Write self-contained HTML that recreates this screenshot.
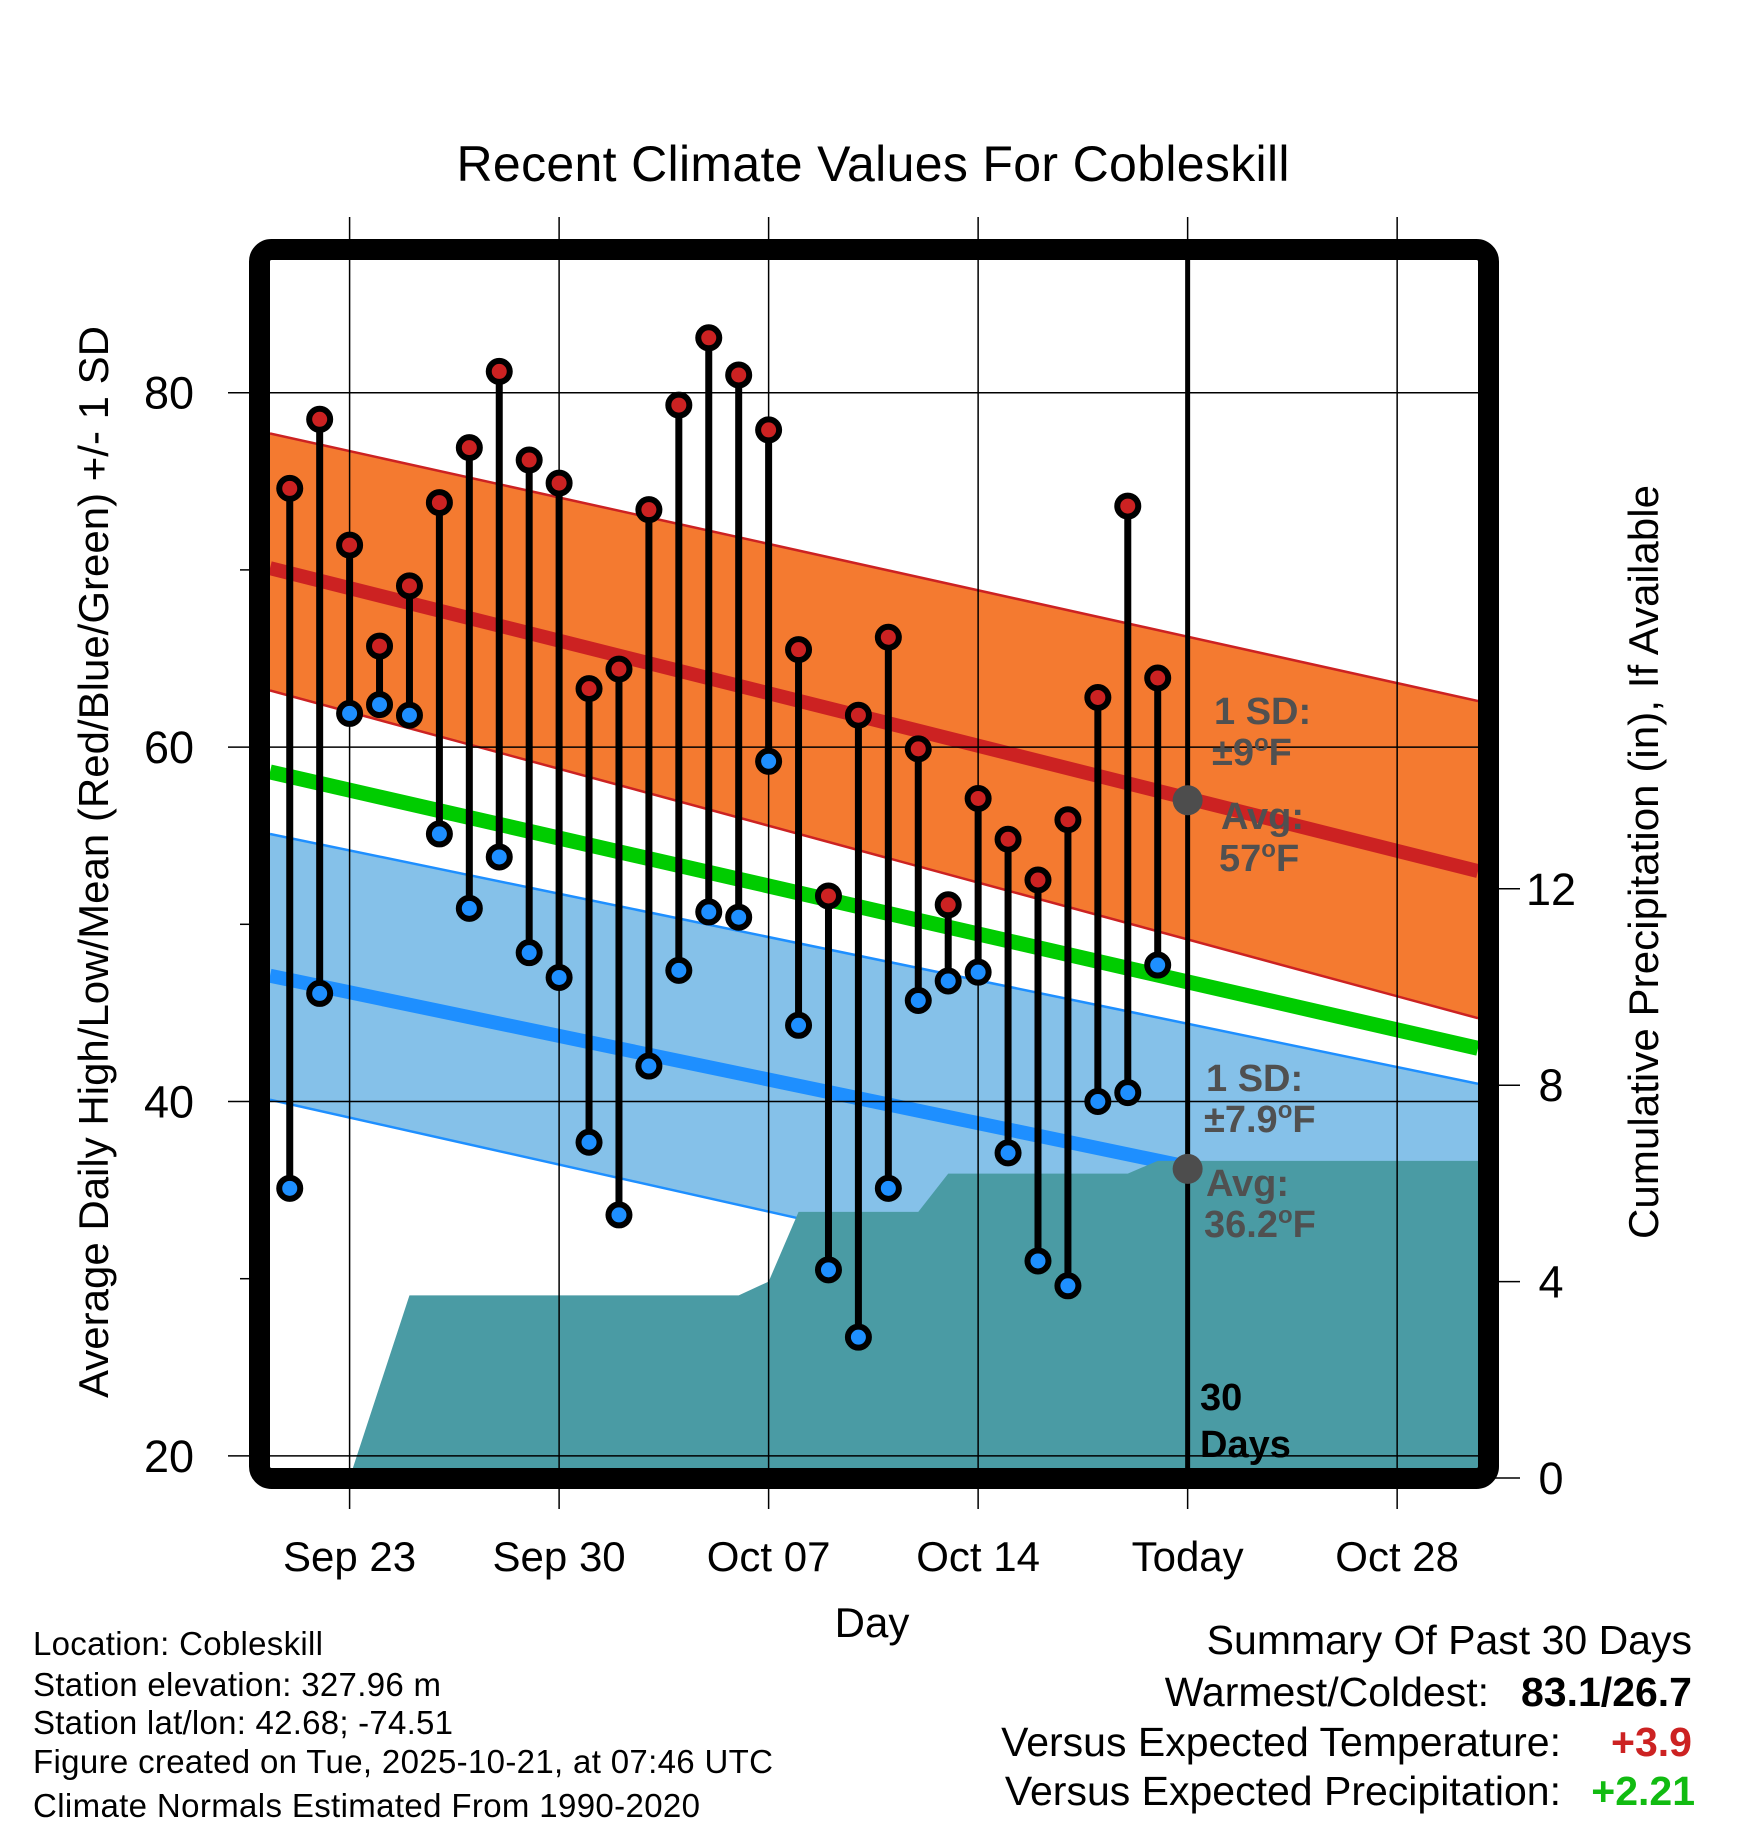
<!DOCTYPE html>
<html><head><meta charset="utf-8"><style>
html,body{margin:0;padding:0;background:#fff;}
svg{display:block;font-family:"Liberation Sans",Arial,sans-serif;}
</style></head><body>
<svg id="chart" width="1748" height="1828" viewBox="0 0 1748 1828" xmlns="http://www.w3.org/2000/svg">
<rect x="0" y="0" width="1748" height="1828" fill="#fff"/>
<g id="plot"></g>
<text x="873" y="181" font-size="50" text-anchor="middle" textLength="833">Recent Climate Values For Cobleskill</text>
<text x="872" y="1637" font-size="42" text-anchor="middle">Day</text>
<text transform="translate(108,862) rotate(-90)" font-size="42" text-anchor="middle" textLength="1072">Average Daily High/Low/Mean (Red/Blue/Green) +/- 1 SD</text>
<text transform="translate(1658,862) rotate(-90)" font-size="42" text-anchor="middle" textLength="754">Cumulative Precipitation (in), If Available</text>
<g font-size="33">
<text x="33" y="1655" textLength="290">Location: Cobleskill</text>
<text x="33" y="1696" textLength="408">Station elevation: 327.96 m</text>
<text x="33" y="1734" textLength="420">Station lat/lon: 42.68; -74.51</text>
<text x="33" y="1773" textLength="740">Figure created on Tue, 2025-10-21, at 07:46 UTC</text>
<text x="33" y="1817" textLength="667">Climate Normals Estimated From 1990-2020</text>
</g>
<g font-size="41">
<text x="1692" y="1654" text-anchor="end">Summary Of Past 30 Days</text>
<text x="1489" y="1706" text-anchor="end">Warmest/Coldest:</text>
<text x="1692" y="1706" text-anchor="end" font-weight="bold">83.1/26.7</text>
<text x="1561" y="1756" text-anchor="end">Versus Expected Temperature:</text>
<text x="1692" y="1756" text-anchor="end" font-weight="bold" fill="#cc2222">+3.9</text>
<text x="1561" y="1805" text-anchor="end">Versus Expected Precipitation:</text>
<text x="1695" y="1805" text-anchor="end" font-weight="bold" fill="#11bb11">+2.21</text>
</g>
</svg>
<script>
// ---- data ----
const dayLabels = ["Sep 23","Sep 30","Oct 07","Oct 14","Today","Oct 28"];
const dayTickOffsets = [0,7,14,21,28,35];
const obsDays = [-2,-1,0,1,2,3,4,5,6,7,8,9,10,11,12,13,14,15,16,17,18,19,20,21,22,23,24,25,26,27];
const highs = [74.6,78.5,71.4,65.7,69.1,73.8,76.9,81.2,76.2,74.9,63.3,64.4,73.4,79.3,83.1,81.0,77.9,65.5,51.6,61.8,66.2,59.9,51.1,57.1,54.8,52.5,55.9,62.8,73.6,63.9];
const lows = [35.1,46.1,61.9,62.4,61.8,55.1,50.9,53.8,48.4,47.0,37.7,33.6,42.0,47.4,50.7,50.4,59.2,44.3,30.5,26.7,35.1,45.7,46.8,47.3,37.1,31.0,29.6,40.0,40.5,47.7];
const precip = [0,0,0,1.86,3.72,3.72,3.72,3.72,3.72,3.72,3.72,3.72,3.72,3.72,3.72,3.72,4.0,5.42,5.42,5.42,5.42,5.42,6.2,6.2,6.2,6.2,6.2,6.2,6.2,6.46];
// normals at plot left and right edges
const normHighMean = [70.1,53.0];
const normHighUpper = [77.7,62.6];
const normHighLower = [63.2,44.7];
const normMean = [58.6,43.0];
const normLowMean = [47.1,32.9];
const normLowUpper = [55.1,41.0];
const normLowLower = [40.1,24.8];
const yTicks = [20,40,60,80];
const y2Ticks = [0,4,8,12];
const todayHighAvg = 57, todayLowAvg = 36.2;

// ---- scales ----
const L=270,R=1478,T=260,B=1468;
const X = d => 349.6 + d*29.93;
const Y = v => 392.7 + (80-v)*17.72;
const Y2 = p => 1478 - p*49.1;
const todayX = X(28);

const NS="http://www.w3.org/2000/svg";
const plot=document.getElementById('plot');
function mk(tag,attrs,parent){const e=document.createElementNS(NS,tag);for(const k in attrs)e.setAttribute(k,attrs[k]);(parent||plot).appendChild(e);return e;}

const defs=mk('defs',{});
const cp=mk('clipPath',{id:'clip'},defs);
mk('rect',{x:L,y:T,width:R-L,height:B-T},cp);
const g=mk('g',{'clip-path':'url(#clip)'});



function band(a,b,fill,stroke,name){
  const p=mk('polygon',{points:`${L},${Y(a[0])} ${R},${Y(a[1])} ${R},${Y(b[1])} ${L},${Y(b[0])}`,fill:fill},g);
  
  
  [a,b].forEach(e=>{const l=mk('line',{x1:L,y1:Y(e[0]),x2:R,y2:Y(e[1]),stroke:stroke,'stroke-width':2.5},g);
    
    });
}
function line(a,color,w,name){
  const l=mk('line',{x1:L,y1:Y(a[0]),x2:R,y2:Y(a[1]),stroke:color,'stroke-width':w},g);
  
  
}
band(normHighUpper,normHighLower,'#f47a30','#cc2222','high-sd-band');
band(normLowUpper,normLowLower,'#85c1e9','#1e8fff','low-sd-band');
line(normHighMean,'#cc2222',14,'normal-high-line');
line(normLowMean,'#1e8fff',14,'normal-low-line');
line(normMean,'#00cc00',15,'normal-mean-line');

let pts=`${X(obsDays[0])},${B+10} `;
obsDays.forEach((d,i)=>{pts+=`${X(d)},${Y2(precip[i])} `;});
const lastP=precip[precip.length-1];
pts+=`${todayX},${Y2(lastP)} ${R+10},${Y2(lastP)} ${R+10},${B+10}`;
const pa=mk('polygon',{points:pts,fill:'#4a9ba4'},g);



dayTickOffsets.forEach((d,i)=>{
  const x=X(d);
  const gl=mk('line',{x1:x,y1:217,x2:x,y2:1509,stroke:'#000','stroke-width':1.5});
  
  
  const t=mk('text',{x:x,y:1571,'font-size':42,'text-anchor':'middle'});
  t.textContent=dayLabels[i];
  
  
});
const tl=mk('line',{x1:todayX,y1:T,x2:todayX,y2:B,stroke:'#000','stroke-width':5});


yTicks.forEach(v=>{
  const y=Y(v);
  const gl=mk('line',{x1:228,y1:y,x2:R,y2:y,stroke:'#000','stroke-width':1.5});
  
  
  const t=mk('text',{x:194,y:y+16,'font-size':45,'text-anchor':'end'});
  t.textContent=v;
  
  
});
[30,50,70].forEach(v=>{
  const tk=mk('line',{x1:240,y1:Y(v),x2:252,y2:Y(v),stroke:'#000','stroke-width':1.5});
  
  
});
y2Ticks.forEach(p=>{
  const y=Y2(p);
  const tk=mk('line',{x1:1495,y1:y,x2:1520,y2:y,stroke:'#000','stroke-width':1.5});
  
  
  const t=mk('text',{x:1551,y:y+16,'font-size':45,'text-anchor':'middle'});
  t.textContent=p;
  
  
});

obsDays.forEach((d,i)=>{
  const x=X(d);
  const s=mk('line',{x1:x,y1:Y(highs[i]),x2:x,y2:Y(lows[i]),stroke:'#000','stroke-width':7});
  
  
});
obsDays.forEach((d,i)=>{
  const x=X(d);
  const h=mk('circle',{cx:x,cy:Y(highs[i]),r:10.5,fill:'#cc2222',stroke:'#000','stroke-width':6});
  
  
  const l=mk('circle',{cx:x,cy:Y(lows[i]),r:10.5,fill:'#1e8fff',stroke:'#000','stroke-width':6});
  
  
});

const a1=mk('circle',{cx:todayX,cy:Y(todayHighAvg),r:15,fill:'#4d4d4d'});


const a2=mk('circle',{cx:todayX,cy:Y(todayLowAvg),r:15,fill:'#4d4d4d'});


function ann(x,y,html,name,color){
  const t=mk('text',{x:x,y:y,'font-size':38,'font-weight':'bold',fill:color||'#505050'});
  t.innerHTML=html;
  
  
}
const deg='<tspan dy="-14" font-size="24">o</tspan><tspan dy="14">F</tspan>';
ann(1214,724,'1 SD:','high-sd-label');
ann(1212,765,'±9'+deg,'high-sd-value');
ann(1221,829,'Avg:','high-avg-label');
ann(1219,871,'57'+deg,'high-avg-value');
ann(1206,1091,'1 SD:','low-sd-label');
ann(1204,1132,'±7.9'+deg,'low-sd-value');
ann(1206,1196,'Avg:','low-avg-label');
ann(1204,1237,'36.2'+deg,'low-avg-value');
ann(1200,1410,'30','days-count-label','#000');
ann(1200,1457,'Days','days-word-label','#000');

const fr=mk('rect',{x:259.5,y:249.5,width:1229,height:1229,rx:12,fill:'none',stroke:'#000','stroke-width':21});


</script>
</body></html>
